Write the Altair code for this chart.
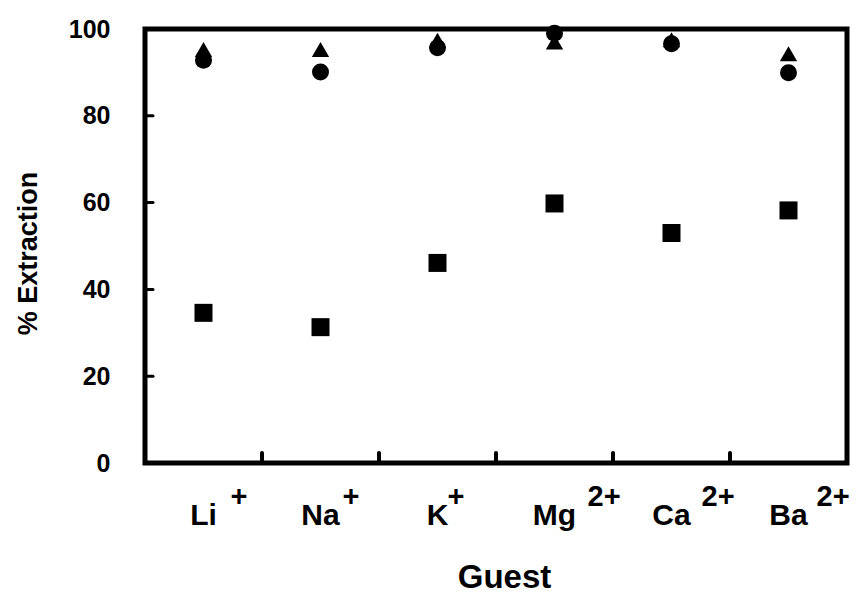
import altair as alt
import pandas as pd

# ---- data ----
guests = ["Li", "Na", "K", "Mg", "Ca", "Ba"]
charges = ["+", "+", "+", "2+", "2+", "2+"]
square_vals = [34.6, 31.3, 46.1, 59.8, 53.0, 58.2]
circle_vals = [92.8, 90.1, 95.7, 99.0, 96.6, 89.9]
triangle_vals = [95.3, 95.3, 97.4, 97.0, 97.5, 94.3]
y_ticks = [0, 20, 40, 60, 80, 100]

# ---- layout constants (not data) ----
W, H = 702, 434
PAD = {"left": 145, "top": 29, "right": 9, "bottom": 132}
SUP_DX = [27, 22, 10, 33, 30, 28]   # superscript left-edge offset from category centre
FONT = "Liberation Sans"

points_df = pd.DataFrame({
    "guest": guests * 3,
    "series": ["square"] * 6 + ["circle"] * 6 + ["triangle"] * 6,
    "value": square_vals + circle_vals + triangle_vals,
})
labels_df = pd.DataFrame({"guest": guests, "charge": charges})
ytick_df = pd.DataFrame({"v": [t for t in y_ticks if 0 < t < 100]})
xtick_df = pd.DataFrame({"guest": guests[1:]})

xscale = alt.Scale(type="band", domain=guests, paddingInner=0, paddingOuter=0)
yscale = alt.Scale(domain=[0, 100], nice=False, zero=True)

xenc = alt.X(
    "guest:N", scale=xscale, sort=guests,
    axis=alt.Axis(labels=False, ticks=False, domain=False, grid=False,
                  title="Guest", titleFont=FONT, titleFontSize=33,
                  titleFontWeight="bold", titleColor="black",
                  titleX=359, titleY=114, titleAlign="center",
                  titleBaseline="middle", titleAngle=0),
)
yenc = alt.Y(
    "value:Q", scale=yscale,
    axis=alt.Axis(values=y_ticks, labels=True, ticks=False, tickSize=0,
                  domain=False, grid=False, labelPadding=35,
                  labelFont=FONT, labelFontSize=25, labelFontWeight="bold",
                  labelColor="black",
                  title="% Extraction", titleFont=FONT, titleFontSize=27,
                  titleFontWeight="bold", titleColor="black",
                  titleAngle=270, titleX=-117, titleY=224,
                  titleAlign="center", titleBaseline="middle"),
)

base = alt.Chart(points_df)

squares = base.transform_filter(alt.datum.series == "square").mark_point(
    shape="square", filled=True, size=324, color="black", opacity=1
).encode(x=xenc, y=yenc)
triangles = base.transform_filter(alt.datum.series == "triangle").mark_point(
    shape="triangle-up", filled=True, size=300, color="black", opacity=1
).encode(x=xenc, y=yenc)
circles = base.transform_filter(alt.datum.series == "circle").mark_point(
    shape="circle", filled=True, size=289, color="black", opacity=1
).encode(x=xenc, y=yenc)

yticks = alt.Chart(ytick_df).mark_rule(
    color="black", strokeWidth=3, strokeCap="round"
).encode(y=alt.Y("v:Q", scale=yscale), x=alt.value(0), x2=alt.value(8))

xticks = alt.Chart(xtick_df).mark_rule(
    color="black", strokeWidth=4, strokeCap="round"
).encode(x=alt.X("guest:N", scale=xscale, sort=guests, bandPosition=0),
         y=alt.value(H), y2=alt.value(H - 10))

base_labels = alt.Chart(labels_df).mark_text(
    font=FONT, fontSize=30, fontWeight="bold", color="black",
    align="center", baseline="alphabetic"
).encode(x=alt.X("guest:N", scale=xscale, sort=guests),
         y=alt.value(496), text="guest:N")

sup_layers = []
for g, dx in zip(guests, SUP_DX):
    sup_layers.append(
        alt.Chart(labels_df).transform_filter(alt.datum.guest == g).mark_text(
            font=FONT, fontSize=29, fontWeight="bold", color="black",
            align="left", baseline="alphabetic", dx=dx
        ).encode(x=alt.X("guest:N", scale=xscale, sort=guests),
                 y=alt.value(477), text="charge:N")
    )

chart = alt.layer(
    yticks, xticks, squares, triangles, circles, base_labels, *sup_layers
).properties(
    width=W, height=H,
    autosize=alt.AutoSizeParams(type="none"),
    padding=PAD,
    background="white",
).configure_view(
    stroke="black", strokeWidth=5
)

chart.save("out.html", embed_options={"renderer": "svg", "actions": False})
